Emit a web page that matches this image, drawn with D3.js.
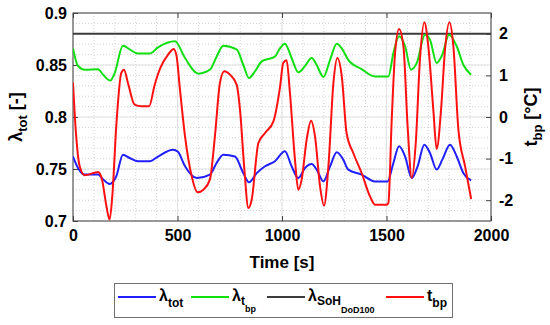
<!DOCTYPE html>
<html lang="en">
<head>
<meta charset="UTF-8">
<title>Lambda and t_bp vs time</title>
<script src="https://d3js.org/d3.v7.min.js"></script>
<style>
    body { margin: 0; background: #fff; }
    svg { font-family: 'Liberation Sans', Arial, sans-serif; font-weight: bold; }
    .tick text { font-size: 16px; font-weight: bold; fill: #000; }
    .tick line { stroke: #404040; }
</style>
</head>
<body>
<svg id="chart" width="550" height="325"></svg>
<script>
// lambda_tot (left axis)
var totTime = [0,24,56,120,144,175,207,239,271,311,367,407,478,502,536,592,655,687,719,775,815,842,879,919,966,1014,1046,1078,1110,1142,1166,1198,1230,1262,1293,1317,1381,1445,1505,1533,1560,1589,1621,1649,1681,1708,1740,1767,1804,1836,1868,1905];
var totVals = [0.762,0.751,0.7446,0.7446,0.740,0.7356,0.743,0.7638,0.7606,0.7574,0.7574,0.762,0.7686,0.7665,0.7526,0.7413,0.7446,0.7558,0.7638,0.762,0.746,0.7372,0.746,0.7526,0.7574,0.767,0.7526,0.7413,0.751,0.7548,0.7494,0.7381,0.7526,0.766,0.759,0.7494,0.7446,0.7381,0.7381,0.7558,0.7718,0.762,0.7413,0.7526,0.7734,0.7654,0.7494,0.759,0.7734,0.762,0.746,0.739];

// lambda_t_bp (left axis)
var tbpLamTime = [0,24,56,120,144,179,199,239,271,311,367,407,488,536,600,655,687,719,783,815,842,871,903,966,990,1014,1046,1078,1110,1142,1166,1198,1230,1262,1286,1317,1381,1445,1509,1533,1560,1589,1617,1645,1684,1708,1740,1767,1799,1836,1868,1905];
var tbpLamVals = [0.866,0.849,0.8455,0.846,0.8407,0.835,0.842,0.8686,0.865,0.861,0.861,0.867,0.8728,0.8567,0.8417,0.8455,0.858,0.8686,0.865,0.850,0.8375,0.844,0.8535,0.858,0.866,0.8705,0.8567,0.843,0.849,0.8567,0.850,0.8385,0.855,0.8705,0.866,0.855,0.846,0.839,0.839,0.8615,0.8776,0.868,0.8455,0.852,0.879,0.8744,0.852,0.86,0.879,0.868,0.850,0.8407];

// lambda_SoH_DoD100 (left axis, constant)
var sohTime = [0, 2000];
var sohVals = [0.88, 0.88];

// t_bp in degC (right axis)
var tbpTime = [0,13,32,56,120,139,160,175,188,207,231,244,263,295,327,364,391,418,455,482,496,510,536,568,596,624,655,679,703,724,751,783,799,820,839,855,887,919,959,990,1006,1022,1038,1062,1078,1094,1118,1139,1158,1182,1201,1222,1246,1265,1286,1309,1341,1381,1421,1445,1501,1509,1525,1541,1560,1581,1601,1621,1640,1660,1681,1700,1724,1740,1761,1780,1801,1820,1844,1876,1905];
var tbpVals = [0.83,-0.304,-1.186,-1.40,-1.322,-1.506,-2.147,-2.468,-1.907,-0.224,1.058,1.138,0.817,0.296,0.256,0.256,0.777,1.178,1.498,1.635,1.45,0.75,-0.465,-1.426,-1.811,-1.747,-1.506,-0.465,0.817,1.098,1.018,0.777,0.176,-1.266,-2.188,-1.987,-0.625,-0.385,-0.104,0.7,1.298,1.362,0.577,-1.026,-1.747,-1.506,-0.545,-0.088,-0.465,-1.667,-2.131,-1.186,0.817,1.418,0.978,-0.385,-0.865,-1.346,-1.907,-2.107,-2.107,-2.067,-0.064,1.538,2.115,1.699,-0.224,-1.466,-0.625,1.378,2.276,1.699,0.176,-0.769,0.176,1.619,2.276,1.699,-0.304,-1.186,-1.971];

var xTicks = [0, 500, 1000, 1500, 2000];
var leftTicks = [0.7, 0.75, 0.8, 0.85, 0.9];
var rightTicks = [-2, -1, 0, 1, 2];

var svg = d3.select("#chart"),
    margin = {top: 13, right: 59, bottom: 104, left: 73},
    width = +svg.attr("width") - margin.left - margin.right,
    height = +svg.attr("height") - margin.top - margin.bottom;

var x = d3.scaleLinear().domain([0, 2000]).range([0, width]),
    y = d3.scaleLinear().domain([0.7, 0.9]).range([height, 0]),
    yR = d3.scaleLinear().domain([-2.5, 2.5]).range([height, 0]);

var g = svg.append("g").attr("transform", "translate(" + margin.left + "," + margin.top + ")");

svg.append("defs").append("clipPath").attr("id", "clip")
    .append("rect").attr("width", width).attr("height", height);

// minor grid (dotted)
g.selectAll(".vminor").data(d3.range(100, 2000, 100)).enter().append("line")
    .attr("x1", d => x(d)).attr("x2", d => x(d)).attr("y1", 0).attr("y2", height)
    .attr("stroke", "#d4d4d4").attr("stroke-dasharray", "1,2");
g.selectAll(".hminor").data(d3.range(1, 20)).enter().append("line")
    .attr("y1", d => y(0.7 + d * 0.01)).attr("y2", d => y(0.7 + d * 0.01)).attr("x1", 0).attr("x2", width)
    .attr("stroke", "#d4d4d4").attr("stroke-dasharray", "1,2");
// major grid
g.selectAll(".vmajor").data(xTicks).enter().append("line")
    .attr("x1", d => x(d)).attr("x2", d => x(d)).attr("y1", 0).attr("y2", height)
    .attr("stroke", "#e2e2e2");
g.selectAll(".hmajor").data(leftTicks).enter().append("line")
    .attr("y1", d => y(d)).attr("y2", d => y(d)).attr("x1", 0).attr("x2", width)
    .attr("stroke", "#e2e2e2");

// axes
g.append("g").attr("transform", "translate(0," + height + ")")
    .call(d3.axisBottom(x).tickValues(xTicks).tickSize(-5).tickPadding(9).tickFormat(d => String(d)))
    .call(a => a.select(".domain").remove());
g.append("g")
    .call(d3.axisTop(x).tickValues(xTicks).tickSize(-5).tickFormat(""))
    .call(a => a.select(".domain").remove());
g.append("g")
    .call(d3.axisLeft(y).tickValues(leftTicks).tickSize(-5).tickPadding(6).tickFormat(d => String(+d.toFixed(2))))
    .call(a => a.select(".domain").remove());
g.append("g").attr("transform", "translate(" + width + ",0)")
    .call(d3.axisRight(yR).tickValues(rightTicks).tickSize(-5).tickPadding(8).tickFormat(d => String(d)))
    .call(a => a.select(".domain").remove());

g.append("rect").attr("width", width).attr("height", height)
    .attr("fill", "none").attr("stroke", "#404040").attr("stroke-width", 1);

// series
var plot = g.append("g").attr("clip-path", "url(#clip)");
function addLine(times, vals, scale, color) {
    var pts = times.map((t, i) => [t, vals[i]]);
    plot.append("path").datum(pts)
        .attr("fill", "none").attr("stroke", color).attr("stroke-width", 2)
        .attr("stroke-linejoin", "round")
        .attr("d", d3.line().x(d => x(d[0])).y(d => scale(d[1])).curve(d3.curveMonotoneX));
}
addLine(sohTime, sohVals, y, "#3c3c3c");
addLine(totTime, totVals, y, "#1f1fff");
addLine(tbpLamTime, tbpLamVals, y, "#10e010");
addLine(tbpTime, tbpVals, yR, "#ff1010");

// axis labels
var yl = svg.append("text").attr("transform", "translate(22," + (margin.top + height / 2) + ") rotate(-90)")
    .attr("text-anchor", "middle").style("font-size", "18px");
yl.append("tspan").text("λ");
yl.append("tspan").attr("dy", 5).style("font-size", "13px").text("tot");
yl.append("tspan").attr("dy", -5).text(" [-]");

var yr = svg.append("text").attr("transform", "translate(537," + (margin.top + height / 2) + ") rotate(-90)")
    .attr("text-anchor", "middle").style("font-size", "18px");
yr.append("tspan").text("t");
yr.append("tspan").attr("dy", 5).style("font-size", "13px").text("bp");
yr.append("tspan").attr("dy", -5).text(" [°C]");

svg.append("text").attr("x", margin.left + width / 2).attr("y", 268)
    .attr("text-anchor", "middle").style("font-size", "17px").text("Time [s]");

// legend
var legend = svg.append("g");
legend.append("rect").attr("x", 114.5).attr("y", 283.5).attr("width", 338).attr("height", 34)
    .attr("fill", "#fff").attr("stroke", "#707070");
var legendItems = [
    {x: 118, color: "#1f1fff", parts: [["λ", 16, 0], ["tot", 12, 6]]},
    {x: 191, color: "#10e010", parts: [["λ", 16, 0], ["t", 12, 4], ["bp", 9, 7]]},
    {x: 267, color: "#3c3c3c", parts: [["λ", 16, 0], ["SoH", 12, 4], ["DoD100", 9, 8]]},
    {x: 386, color: "#ff1010", parts: [["t", 16, 0], ["bp", 12, 6]]}
];
legendItems.forEach(function(it) {
    legend.append("line").attr("x1", it.x).attr("x2", it.x + 38).attr("y1", 297).attr("y2", 297)
        .attr("stroke", it.color).attr("stroke-width", 2);
    var t = legend.append("text").attr("x", it.x + 41).attr("y", 301);
    it.parts.forEach(function(p) {
        t.append("tspan").attr("dy", p[2]).style("font-size", p[1] + "px").text(p[0]);
    });
});
</script>
</body>
</html>
